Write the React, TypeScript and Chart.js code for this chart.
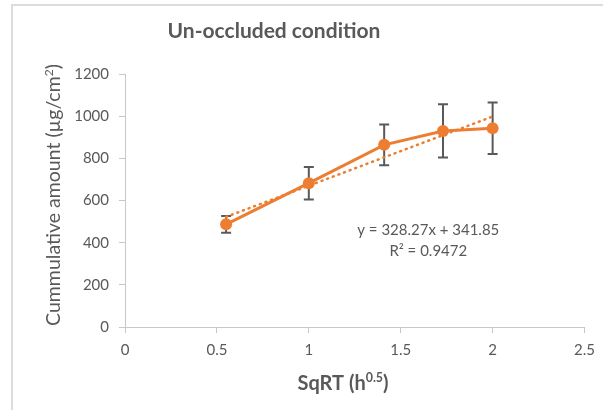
import React, { useEffect, useRef } from "react";
import { Chart, registerables } from "chart.js";

Chart.register(...registerables);

const sqrtTime = [0.55, 1, 1.41, 1.73, 2];
const cumulative = [487, 682, 864, 930, 943];
const errors = [40, 77, 97, 126, 122];
const slope = 328.27;
const intercept = 341.85;
const rSquared = "0.9472";
const xTicks = [0, 0.5, 1, 1.5, 2, 2.5];
const yTicks = [0, 200, 400, 600, 800, 1000, 1200];

const ORANGE = "#ED7D31";
const GRAY = "#595959";
const FONT = "Lato, 'Open Sans', sans-serif";

const errorBarPlugin = {
  id: "errorBars",
  beforeDatasetsDraw(chart: any) {
    const ctx = chart.ctx;
    const xs = chart.scales.x;
    const ys = chart.scales.y;
    ctx.save();
    ctx.strokeStyle = GRAY;
    ctx.lineWidth = 2;
    sqrtTime.forEach((xv, i) => {
      const px = xs.getPixelForValue(xv);
      const top = ys.getPixelForValue(cumulative[i] + errors[i]);
      const bot = ys.getPixelForValue(cumulative[i] - errors[i]);
      ctx.beginPath();
      ctx.moveTo(px, top);
      ctx.lineTo(px, bot);
      ctx.moveTo(px - 5, top);
      ctx.lineTo(px + 5, top);
      ctx.moveTo(px - 5, bot);
      ctx.lineTo(px + 5, bot);
      ctx.stroke();
    });
    ctx.restore();
  },
};

function drawWithSup(ctx: any, parts: { t: string; sup?: boolean }[], cx: number, cy: number, size: number, weight: string) {
  const widths = parts.map((p) => {
    ctx.font = `${weight} ${p.sup ? size * 0.62 : size}px ${FONT}`;
    return ctx.measureText(p.t).width;
  });
  const total = widths.reduce((a, b) => a + b, 0);
  let x = cx - total / 2;
  parts.forEach((p, i) => {
    ctx.font = `${weight} ${p.sup ? size * 0.62 : size}px ${FONT}`;
    ctx.textAlign = "left";
    ctx.textBaseline = "alphabetic";
    ctx.fillText(p.t, x, p.sup ? cy - size * 0.38 : cy);
    x += widths[i];
  });
}

const textPlugin = {
  id: "texts",
  afterDraw(chart: any) {
    const ctx = chart.ctx;
    const xs = chart.scales.x;
    const ys = chart.scales.y;
    ctx.save();
    ctx.fillStyle = GRAY;
    ctx.font = `bold 21px ${FONT}`;
    ctx.textAlign = "center";
    ctx.textBaseline = "alphabetic";
    ctx.fillText("Un-occluded condition", 274, 38);
    drawWithSup(ctx, [{ t: "SqRT (h" }, { t: "0.5", sup: true }, { t: ")" }], 343, 390, 20, "bold");
    ctx.save();
    ctx.translate(60, 195);
    ctx.rotate(-Math.PI / 2);
    drawWithSup(ctx, [{ t: "Cummulative amount (µg/cm" }, { t: "2", sup: true }, { t: ")" }], 0, 0, 19.5, "normal");
    ctx.restore();
    ctx.font = `normal 15px ${FONT}`;
    ctx.textAlign = "center";
    ctx.textBaseline = "middle";
    const ex = xs.getPixelForValue(1.65);
    ctx.fillText(`y = ${slope}x + ${intercept}`, ex, ys.getPixelForValue(460));
    ctx.fillText(`R² = ${rSquared}`, ex, ys.getPixelForValue(360));
    ctx.restore();
  },
};

export default function App() {
  const ref = useRef<HTMLCanvasElement>(null);
  useEffect(() => {
    if (!ref.current) return;
    const xMin = sqrtTime[0];
    const xMax = sqrtTime[sqrtTime.length - 1];
    const chart = new Chart(ref.current, {
      type: "scatter",
      data: {
        datasets: [
          {
            label: "trend",
            data: [
              { x: xMin, y: slope * xMin + intercept },
              { x: xMax, y: slope * xMax + intercept },
            ],
            showLine: true,
            borderColor: ORANGE,
            borderWidth: 2.5,
            borderDash: [1, 5],
            borderCapStyle: "round",
            pointRadius: 0,
          },
          {
            label: "data",
            data: sqrtTime.map((x, i) => ({ x, y: cumulative[i] })),
            showLine: true,
            borderColor: ORANGE,
            backgroundColor: ORANGE,
            borderWidth: 3,
            pointRadius: 6,
            pointBorderWidth: 0,
          },
        ],
      },
      options: {
        responsive: false,
        animation: false,
        layout: { padding: { left: 0, right: 16, top: 74, bottom: 0 } },
        plugins: { legend: { display: false }, tooltip: { enabled: false }, title: { display: false } },
        scales: {
          x: {
            type: "linear",
            min: 0,
            max: 2.5,
            afterFit(s: any) { s.height = 83; },
            afterBuildTicks(s: any) { s.ticks = xTicks.map((v) => ({ value: v })); },
            ticks: { color: GRAY, font: { family: FONT, size: 15 }, padding: 8, callback: (v: any) => String(v) },
            grid: { drawOnChartArea: false, tickLength: 6, color: "#c8c8c8" },
            border: { color: "#c8c8c8", width: 1 },
          },
          y: {
            type: "linear",
            min: 0,
            max: 1200,
            afterFit(s: any) { s.width = 125; },
            afterBuildTicks(s: any) { s.ticks = yTicks.map((v) => ({ value: v })); },
            ticks: { color: GRAY, font: { family: FONT, size: 15 }, padding: 10, callback: (v: any) => String(v) },
            grid: { drawOnChartArea: false, tickLength: 6, color: "#c8c8c8" },
            border: { color: "#c8c8c8", width: 1 },
          },
        },
      },
      plugins: [errorBarPlugin, textPlugin],
    } as any);
    return () => chart.destroy();
  }, []);
  return (
    <div>
      <div
        style={{
          position: "fixed",
          left: 11,
          top: 4,
          width: 603,
          height: 420,
          borderTop: "2px solid #dcdcdc",
          borderLeft: "2px solid #dcdcdc",
        }}
      />
      <canvas ref={ref} width={603} height={410} style={{ position: "fixed", left: 0, top: 0, width: 603, height: 410 }} />
    </div>
  );
}
